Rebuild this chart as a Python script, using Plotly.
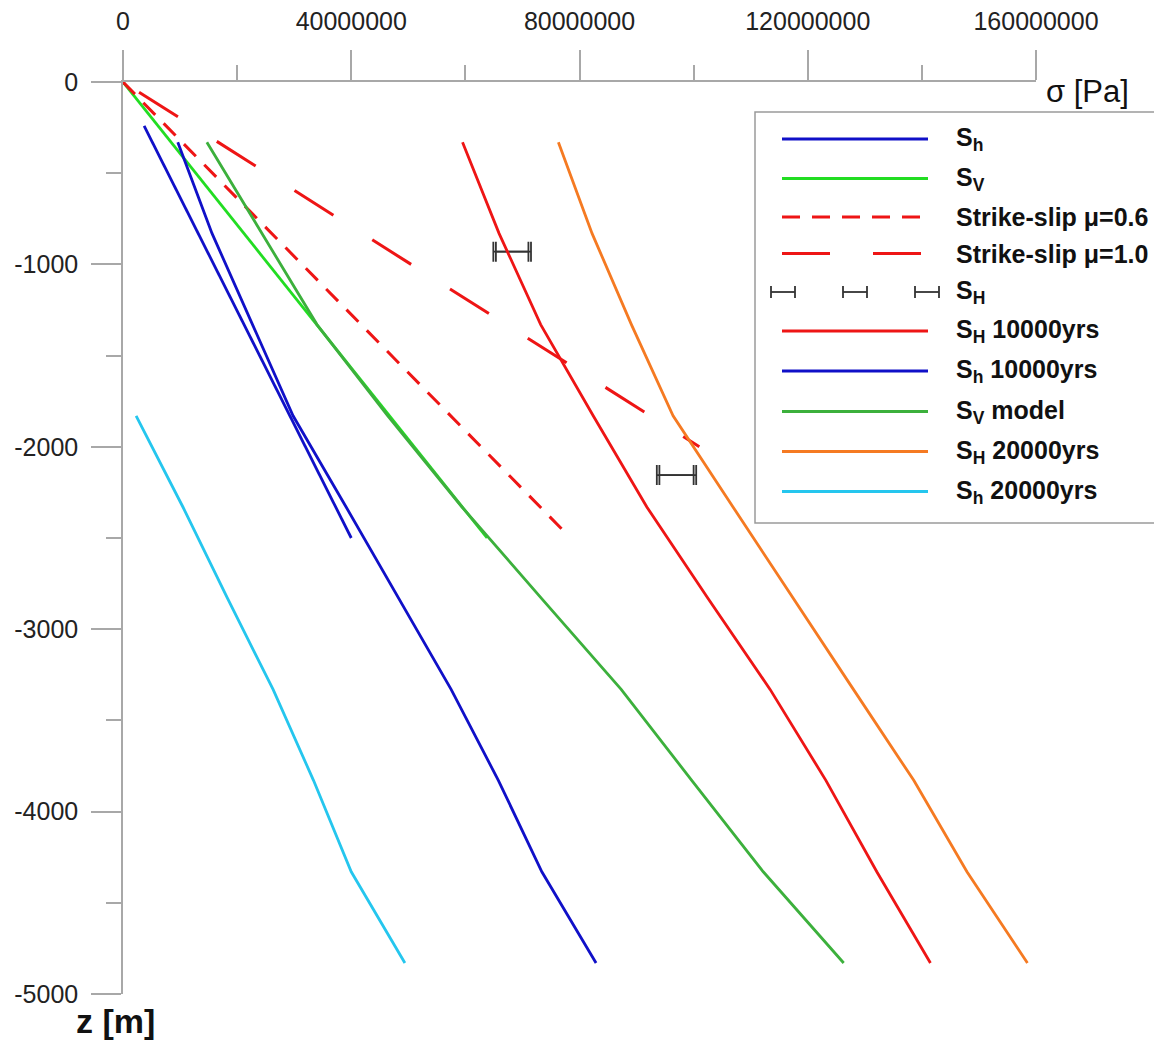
import plotly.graph_objects as go

# ---------------- data ----------------
# measured profiles (straight lines)
Z_Sh = [-240, -2500]
Sh = [3.7e6, 40.0e6]
Z_SV = [0, -2500]
SV = [0.0, 63.8e6]
Z_SS06 = [0, -2470]
SS06 = [0.0, 77.5e6]
Z_SS10 = [0, -2000]
SS10 = [0.0, 101.0e6]

# S_H measurements with ranges
SH_SIGMA = [68.2e6, 97.0e6]
SH_Z = [-930, -2155]
SH_ERR = [3.3e6, 3.45e6]

# model results
Z_MODEL = [-330, -830, -1330, -1830, -2330, -2830, -3330, -3830, -4330, -4830]
SH_10000 = [59.5e6, 65.9e6, 73.2e6, 82.4e6, 91.8e6, 102.5e6, 113.4e6, 123.2e6, 132.1e6, 141.5e6]
Sh_10000 = [9.6e6, 15.6e6, 22.7e6, 29.8e6, 39.1e6, 48.3e6, 57.5e6, 65.8e6, 73.4e6, 82.9e6]
SV_MODEL = [14.7e6, 24.3e6, 34.0e6, 46.4e6, 59.4e6, 73.3e6, 87.3e6, 99.7e6, 112.2e6, 126.3e6]
SH_20000 = [76.3e6, 82.2e6, 89.1e6, 96.4e6, 106.9e6, 117.4e6, 128.0e6, 138.6e6, 147.9e6, 158.5e6]
Z_Sh_20000 = [-1830, -2330, -2830, -3330, -3830, -4330, -4830]
Sh_20000 = [2.3e6, 10.5e6, 18.3e6, 26.3e6, 33.4e6, 40.0e6, 49.4e6]

X_TICKS = [0, 40e6, 80e6, 120e6, 160e6]
X_TICKTEXT = ["0", "40000000", "80000000", "120000000", "160000000"]
X_MINOR = [20e6, 60e6, 100e6, 140e6]
Y_TICKS = [0, -1000, -2000, -3000, -4000, -5000]
Y_TICKTEXT = ["0", "-1000", "-2000", "-3000", "-4000", "-5000"]
Y_MINOR = [-500, -1500, -2500, -3500, -4500]

LEGEND_LABELS = ["S<sub>h</sub>", "S<sub>V</sub>", "Strike-slip μ=0.6", "Strike-slip μ=1.0",
                 "S<sub>H</sub>", "S<sub>H</sub> 10000yrs", "S<sub>h</sub> 10000yrs",
                 "S<sub>V</sub> model", "S<sub>H</sub> 20000yrs", "S<sub>h</sub> 20000yrs"]

# ---------------- styles ----------------
BLUE = "#1010c8"
GREEN = "#22dd22"
GREEN_D = "#3cb03c"
RED = "#ee1515"
ORANGE = "#f57a22"
CYAN = "#25c6ee"
BAR = "#333333"
AXIS = "#a8a8a8"
FONT = "Liberation Sans, Arial, sans-serif"
DASH06 = "17px,12px"
DASH10 = "0px,19px,46px,27px"
LW = 2.8

# page body has an 8px margin; plot area spans screen x 123..1036, y 82..994
PAGE = 8
X0, X1, Y0, Y1 = 123, 1036, 82, 994
L, T = X0 - PAGE, Y0 - PAGE
R, B = 1162 - X1, 1043 - Y1
PW, PH = X1 - X0, Y1 - Y0
W, H = L + PW + R, T + PH + B


def px(x):
    return (x - X0) / PW


def py(y):
    return (Y1 - y) / PH


fig = go.Figure()

series = [
    (Sh, Z_Sh, BLUE, None, LEGEND_LABELS[0]),
    (SV, Z_SV, GREEN, None, LEGEND_LABELS[1]),
    (SS06, Z_SS06, RED, DASH06, LEGEND_LABELS[2]),
    (SS10, Z_SS10, RED, DASH10, LEGEND_LABELS[3]),
]
for xs, zs, col, dash, name in series:
    fig.add_trace(go.Scatter(x=xs, y=zs, mode="lines", name=name, showlegend=False,
                             line=dict(color=col, width=3 if dash else LW, dash=dash)))

# S_H error bars (double caps)
CAP_GAP = 0.45e6
for arr in (SH_ERR, [e - CAP_GAP for e in SH_ERR]):
    fig.add_trace(go.Scatter(x=SH_SIGMA, y=SH_Z, mode="markers", showlegend=False, name="S_H",
                             marker=dict(size=1, color="rgba(0,0,0,0)"),
                             error_x=dict(type="data", array=arr, symmetric=True, color=BAR,
                                          thickness=1.8, width=10)))

models = [
    (SH_10000, Z_MODEL, RED, LEGEND_LABELS[5]),
    (Sh_10000, Z_MODEL, BLUE, LEGEND_LABELS[6]),
    (SV_MODEL, Z_MODEL, GREEN_D, LEGEND_LABELS[7]),
    (SH_20000, Z_MODEL, ORANGE, LEGEND_LABELS[8]),
    (Sh_20000, Z_Sh_20000, CYAN, LEGEND_LABELS[9]),
]
for xs, zs, col, name in models:
    fig.add_trace(go.Scatter(x=xs, y=zs, mode="lines", name=name, showlegend=False,
                             line=dict(color=col, width=LW)))

# ---------------- custom legend ----------------
shapes = []
annotations = []
shapes.append(dict(type="rect", xref="paper", yref="paper", x0=px(755), x1=px(1180),
                   y0=py(523), y1=py(112), line=dict(color="#9a9a9a", width=1.5),
                   fillcolor="rgba(255,255,255,0)", layer="above"))
ROWS = [139, 178.5, 217, 253.5, 292, 331, 371, 411.5, 451.5, 491.5]
leg_styles = [(BLUE, None), (GREEN, None), (RED, "18px,12px"), (RED, "48px,43px"), None,
              (RED, None), (BLUE, None), (GREEN_D, None), (ORANGE, None), (CYAN, None)]
for row, st, lab in zip(ROWS, leg_styles, LEGEND_LABELS):
    if st is None:
        for cx in (783, 855, 927):
            shapes.append(dict(type="line", xref="paper", yref="paper", x0=px(cx - 12), x1=px(cx + 12),
                               y0=py(row), y1=py(row), line=dict(color=BAR, width=1.8)))
            for ex in (cx - 12, cx + 12):
                shapes.append(dict(type="line", xref="paper", yref="paper", x0=px(ex), x1=px(ex),
                                   y0=py(row - 6), y1=py(row + 6), line=dict(color=BAR, width=1.8)))
    else:
        col, dash = st
        shapes.append(dict(type="line", xref="paper", yref="paper", x0=px(782), x1=px(928),
                           y0=py(row), y1=py(row),
                           line=dict(color=col, width=3 if dash else LW, dash=dash)))
    annotations.append(dict(text=lab, xref="paper", yref="paper", x=px(954), y=py(row),
                            xanchor="left", yanchor="middle", showarrow=False,
                            font=dict(family=FONT, size=25, color="#111111", weight="bold")))

annotations.append(dict(text="σ [Pa]", xref="paper", yref="paper", x=px(1044), y=py(92),
                        xanchor="left", yanchor="middle", showarrow=False,
                        font=dict(family=FONT, size=31, color="#111111")))
annotations.append(dict(text="z [m]", xref="paper", yref="paper", x=px(74), y=py(1021),
                        xanchor="left", yanchor="middle", showarrow=False,
                        font=dict(family=FONT, size=34, color="#111111", weight="bold")))

fig.update_layout(
    width=W, height=H,
    margin=dict(l=L, r=R, t=T, b=B, pad=0, autoexpand=False),
    paper_bgcolor="white", plot_bgcolor="white",
    showlegend=False,
    shapes=shapes, annotations=annotations,
    xaxis=dict(side="top", range=[0, 160e6], tickmode="array", tickvals=X_TICKS,
               ticktext=X_TICKTEXT, showgrid=False, zeroline=False, showline=True,
               automargin=False,
               linecolor=AXIS, linewidth=1.5, ticks="outside", ticklen=30, tickwidth=1.5,
               tickcolor=AXIS, ticklabelstandoff=10,
               tickfont=dict(family=FONT, size=25, color="#222222"),
               minor=dict(tickmode="array", tickvals=X_MINOR, ticks="outside", ticklen=15,
                          tickwidth=1.5, tickcolor=AXIS, showgrid=False)),
    yaxis=dict(range=[-5000, 0], tickmode="array", tickvals=Y_TICKS, ticktext=Y_TICKTEXT,
               showgrid=False, zeroline=False, showline=True, linecolor=AXIS, linewidth=1.5,
               automargin=False,
               ticks="outside", ticklen=30, tickwidth=1.5, tickcolor=AXIS,
               ticklabelstandoff=8,
               tickfont=dict(family=FONT, size=25, color="#222222"),
               minor=dict(tickmode="array", tickvals=Y_MINOR, ticks="outside", ticklen=15,
                          tickwidth=1.5, tickcolor=AXIS, showgrid=False)),
)

fig.write_html("out.html")
